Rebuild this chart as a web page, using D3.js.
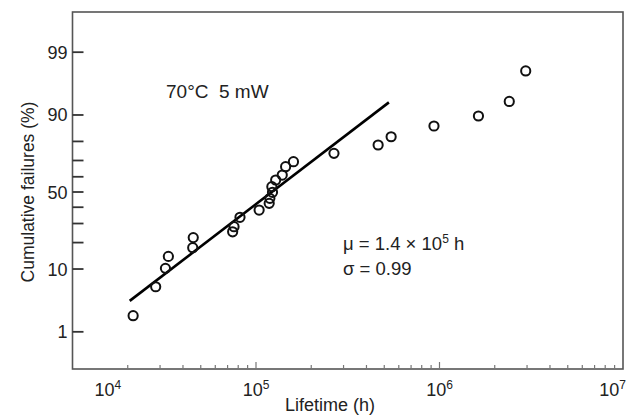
<!DOCTYPE html>
<html>
<head>
<meta charset="utf-8">
<script src="https://cdn.jsdelivr.net/npm/d3@7"></script>
<style>
  body { margin: 0; background: #fff; }
  text { font-family: "Liberation Sans", Arial, sans-serif; fill: #222; }
</style>
</head>
<body>
<div class="chart-box"></div>
<script>
/* Data: lifetime (h) and cumulative failures (%) */
const lifetimes = [2.14e4, 2.84e4, 3.21e4, 3.33e4, 4.52e4, 4.55e4, 7.46e4, 7.59e4, 8.18e4,
  1.04e5, 1.18e5, 1.19e5, 1.23e5, 1.22e5, 1.28e5, 1.39e5, 1.45e5, 1.60e5,
  2.66e5, 4.63e5, 5.45e5, 9.33e5, 1.63e6, 2.40e6, 2.95e6];
const failures = [1.98, 5.75, 10.2, 14.2, 17.7, 22.4, 25.4, 28.2, 33.7,
  38.2, 42.5, 45.8, 49.8, 53.5, 57.9, 61.1, 66.3, 69.3,
  74.0, 78.3, 82.1, 86.4, 89.7, 93.4, 97.8];

/* fitted lognormal line, end points */
const fitTimes = [2.05e4, 5.3e5];
const fitFailures = [3.5, 93.2];

const yMajorTicks = [1, 10, 50, 90, 99];
const yMinorTicks = [20, 30, 40, 60, 70, 80];
const xDecades = [1e4, 1e5, 1e6, 1e7];

/* Declare constants */
const width = 636, height = 416;
const margin = {left: 72.5, right: 13, top: 12, bottom: 47};

// inverse normal cdf (Acklam)
function probit(p) {
  const a = [-3.969683028665376e+01, 2.209460984245205e+02, -2.759285104469687e+02, 1.383577518672690e+02, -3.066479806614716e+01, 2.506628277459239e+00];
  const b = [-5.447609879822406e+01, 1.615858368580409e+02, -1.556989798598866e+02, 6.680131188771972e+01, -1.328068155288572e+01];
  const c = [-7.784894002430293e-03, -3.223964580411365e-01, -2.400758277161838e+00, -2.549732539343734e+00, 4.374664141464968e+00, 2.938163982698783e+00];
  const d = [7.784695709041462e-03, 3.224671290700398e-01, 2.445134137142996e+00, 3.754408661907416e+00];
  const pl = 0.02425;
  let q, r;
  if (p < pl) {
    q = Math.sqrt(-2 * Math.log(p));
    return (((((c[0]*q+c[1])*q+c[2])*q+c[3])*q+c[4])*q+c[5]) / ((((d[0]*q+d[1])*q+d[2])*q+d[3])*q+1);
  }
  if (p > 1 - pl) {
    q = Math.sqrt(-2 * Math.log(1 - p));
    return -(((((c[0]*q+c[1])*q+c[2])*q+c[3])*q+c[4])*q+c[5]) / ((((d[0]*q+d[1])*q+d[2])*q+d[3])*q+1);
  }
  q = p - 0.5; r = q * q;
  return (((((a[0]*r+a[1])*r+a[2])*r+a[3])*r+a[4])*r+a[5])*q / (((((b[0]*r+b[1])*r+b[2])*r+b[3])*r+b[4])*r+1);
}

/* Create SVG */
const svg = d3.select('.chart-box')
  .append('svg')
  .attr('width', width)
  .attr('height', height);

const x = d3.scaleLog()
  .domain([1e4, 1e7])
  .range([margin.left, width - margin.right]);

const z = d3.scaleLinear()
  .domain([-2.945, 2.995])
  .range([height - margin.bottom, margin.top]);
const y = p => z(probit(p / 100));

const x0 = margin.left, x1 = width - margin.right;
const y0 = height - margin.bottom, y1 = margin.top;

// frame
svg.append('rect')
  .attr('x', x0).attr('y', y1)
  .attr('width', x1 - x0).attr('height', y0 - y1)
  .attr('fill', 'none')
  .attr('stroke', '#555')
  .attr('stroke-width', 1.6);

// x ticks (minor inside, pointing up)
const xMinor = [];
xDecades.slice(0, -1).forEach(dec => {
  for (let k = 2; k <= 9; k++) xMinor.push(dec * k);
});
svg.append('g').selectAll('line.xmin')
  .data(xMinor)
  .enter().append('line')
  .attr('x1', d => x(d)).attr('x2', d => x(d))
  .attr('y1', y0).attr('y2', y0 - 4)
  .attr('stroke', '#777').attr('stroke-width', 1.2);
svg.append('g').selectAll('line.xmaj')
  .data(xDecades.slice(1, -1))
  .enter().append('line')
  .attr('x1', d => x(d)).attr('x2', d => x(d))
  .attr('y1', y0).attr('y2', y0 - 7)
  .attr('stroke', '#777').attr('stroke-width', 1.2);

// x tick labels 10^n (end labels pushed inside the svg edge)
const last = xDecades.length - 1;
const xl = svg.append('g').selectAll('text')
  .data(xDecades)
  .enter().append('text')
  .attr('x', (d, i) => i === 0 ? x(d) + 22 : i === last ? x(d) + 3 : x(d))
  .attr('y', 396)
  .attr('text-anchor', (d, i) => i === 0 ? 'start' : i === last ? 'end' : 'middle')
  .style('font-size', '18px');
xl.append('tspan').text('10');
xl.append('tspan')
  .attr('dy', -7)
  .style('font-size', '12px')
  .text(d => Math.round(Math.log10(d)));

// y ticks
svg.append('g').selectAll('line')
  .data(yMajorTicks.concat(yMinorTicks))
  .enter().append('line')
  .attr('x1', x0).attr('x2', x0 + 11)
  .attr('y1', d => y(d)).attr('y2', d => y(d))
  .attr('stroke', '#333').attr('stroke-width', 1.8);

svg.append('g').selectAll('text')
  .data(yMajorTicks)
  .enter().append('text')
  .attr('x', x0 - 5)
  .attr('y', d => y(d) + 6.5)
  .attr('text-anchor', 'end')
  .style('font-size', '18px')
  .text(d => d);

// axis titles
svg.append('text')
  .attr('transform', 'translate(34,' + 192 + ') rotate(-90)')
  .attr('text-anchor', 'middle')
  .style('font-size', '17.5px')
  .text('Cumulative failures (%)');

svg.append('text')
  .attr('x', 330)
  .attr('y', 411)
  .attr('text-anchor', 'middle')
  .style('font-size', '18px')
  .text('Lifetime (h)');

// fit line
const line = d3.line()
  .x(d => x(d[0]))
  .y(d => y(d[1]));
svg.append('path')
  .datum(fitTimes.map((t, i) => [t, fitFailures[i]]))
  .attr('d', line)
  .attr('fill', 'none')
  .attr('stroke', '#000')
  .attr('stroke-width', 2.6);

// data points
svg.append('g').selectAll('circle')
  .data(lifetimes.map((t, i) => [t, failures[i]]))
  .enter().append('circle')
  .attr('cx', d => x(d[0]))
  .attr('cy', d => y(d[1]))
  .attr('r', 4.6)
  .attr('fill', 'none')
  .attr('stroke', '#111')
  .attr('stroke-width', 2);

// annotations
svg.append('text')
  .attr('x', 166)
  .attr('y', 98)
  .attr('xml:space', 'preserve')
  .style('white-space', 'pre')
  .style('font-size', '19px')
  .text('70°C  5 mW');

const mu = svg.append('text')
  .attr('x', 343)
  .attr('y', 250)
  .style('font-size', '18.5px');
mu.append('tspan').text('μ = 1.4 × 10');
mu.append('tspan').attr('dy', -7).style('font-size', '12px').text('5');
mu.append('tspan').attr('dy', 7).text(' h');

svg.append('text')
  .attr('x', 343)
  .attr('y', 275)
  .style('font-size', '18.5px')
  .text('σ = 0.99');
</script>
</body>
</html>
